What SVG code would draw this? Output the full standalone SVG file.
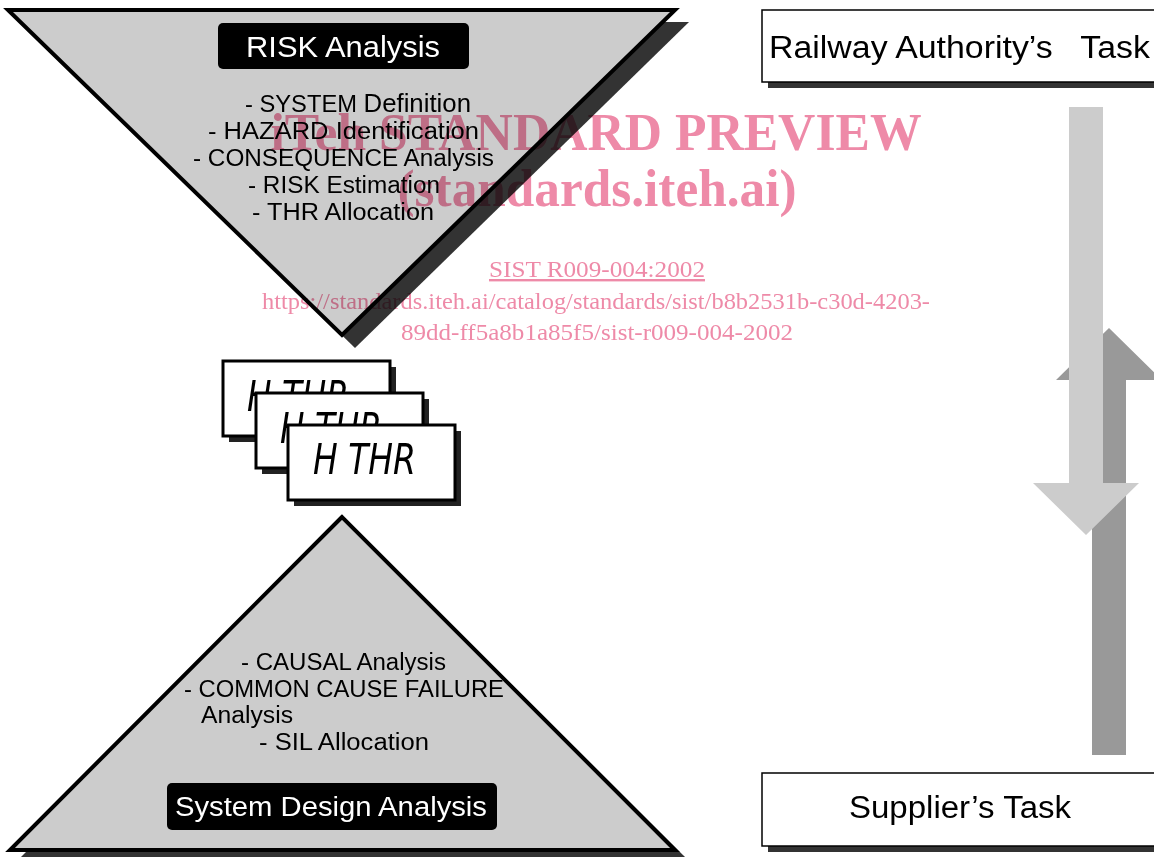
<svg xmlns="http://www.w3.org/2000/svg" width="1154" height="857" viewBox="0 0 1154 857">
<style>
.tri{fill:#cccccc;stroke:#000;stroke-width:4;stroke-linejoin:miter}
.sh{fill:#333333}
.blk{fill:#000}
.wt{fill:#fff;font-family:"Liberation Sans",Arial,sans-serif}
.t{font-family:"Liberation Sans",Arial,sans-serif;font-size:23px;fill:#000}
.card{fill:#fff;stroke:#000;stroke-width:3}
.cs{fill:#222}
.h{font-family:"DejaVu Sans",sans-serif;font-style:italic;font-size:42px;fill:#000}
.box{fill:#fff;stroke:#000;stroke-width:1.5}
.bt{font-family:"Liberation Sans",Arial,sans-serif;font-size:31px;fill:#000}
.wm{font-family:"Liberation Serif","Times New Roman",serif;fill:#ee8aa8;mix-blend-mode:multiply}
</style>
<rect width="1154" height="857" fill="#fff"/>

<g id="risk-analysis">
<polygon class="sh" points="21,22 689,22 355,348"/>
<polygon class="tri" points="8,10 675,10 342,335"/>
<rect class="blk" x="218" y="23" width="251" height="46" rx="5"/>
<text class="wt" x="343" y="57" font-size="30" text-anchor="middle" textLength="194" lengthAdjust="spacingAndGlyphs">RISK Analysis</text>
<text class="t" x="245" y="112" textLength="226" lengthAdjust="spacingAndGlyphs">- SYSTEM <tspan font-size="25">Definition</tspan></text>
<text class="t" x="208" y="139" textLength="271" lengthAdjust="spacingAndGlyphs">- HAZARD Identification</text>
<text class="t" x="193" y="166" textLength="301" lengthAdjust="spacingAndGlyphs">- CONSEQUENCE Analysis</text>
<text class="t" x="248" y="193" textLength="192" lengthAdjust="spacingAndGlyphs">- RISK Estimation</text>
<text class="t" x="252" y="220" textLength="182" lengthAdjust="spacingAndGlyphs">- THR Allocation</text>
</g>

<g id="thr-cards">
<rect class="cs" x="229" y="367" width="167" height="75"/>
<rect class="card" x="223" y="361" width="167" height="75"/>
<text class="h" x="247" y="411" textLength="102" lengthAdjust="spacingAndGlyphs">H THR</text>
<rect class="cs" x="262" y="399" width="167" height="75"/>
<rect class="card" x="256" y="393" width="167" height="75"/>
<text class="h" x="280" y="443" textLength="102" lengthAdjust="spacingAndGlyphs">H THR</text>
<rect class="cs" x="294" y="431" width="167" height="75"/>
<rect class="card" x="288" y="425" width="167" height="75"/>
<text class="h" x="313" y="474" textLength="103" lengthAdjust="spacingAndGlyphs">H THR</text>
</g>

<g id="system-design-analysis">
<polygon class="sh" points="352,526 20,858 686,858"/>
<polygon class="tri" points="342,517 10,850 675,850"/>
<text class="t" x="241" y="670" textLength="205" lengthAdjust="spacingAndGlyphs">- CAUSAL Analysis</text>
<text class="t" x="184" y="697" textLength="320" lengthAdjust="spacingAndGlyphs">- COMMON CAUSE FAILURE</text>
<text class="t" x="201" y="723" textLength="92" lengthAdjust="spacingAndGlyphs">Analysis</text>
<text class="t" x="259" y="750" textLength="170" lengthAdjust="spacingAndGlyphs">- SIL Allocation</text>
<rect class="blk" x="167" y="783" width="330" height="47" rx="5"/>
<text class="wt" x="331" y="816" font-size="27" text-anchor="middle" textLength="312" lengthAdjust="spacingAndGlyphs">System Design Analysis</text>
</g>

<g id="railway-authority-task">
<rect class="sh" x="768" y="16" width="400" height="72"/>
<rect class="box" x="762" y="10" width="400" height="72"/>
<text class="bt" x="769" y="58" textLength="381" lengthAdjust="spacingAndGlyphs" xml:space="preserve">Railway Authority’s   Task</text>
</g>

<g id="supplier-task">
<rect class="sh" x="768" y="779" width="400" height="73"/>
<rect class="box" x="762" y="773" width="400" height="73"/>
<text class="bt" x="849" y="818" textLength="222" lengthAdjust="spacingAndGlyphs">Supplier’s Task</text>
</g>

<g id="connectors">
<polygon fill="#999999" points="1092,755 1126,755 1126,380 1162,380 1109,328 1056,380 1092,380"/>
<polygon fill="#cccccc" points="1069,107 1103,107 1103,483 1139,483 1086,535 1033,483 1069,483"/>
</g>

<g id="watermark">
<text class="wm" x="596" y="150" font-size="52" font-weight="bold" text-anchor="middle" textLength="651" lengthAdjust="spacingAndGlyphs">iTeh STANDARD PREVIEW</text>
<text class="wm" x="597" y="206" font-size="52" font-weight="bold" text-anchor="middle" textLength="399" lengthAdjust="spacingAndGlyphs">(standards.iteh.ai)</text>
<text class="wm" x="597" y="277" font-size="24" text-anchor="middle" text-decoration="underline" textLength="216" lengthAdjust="spacingAndGlyphs">SIST R009-004:2002</text>
<text class="wm" x="596" y="309" font-size="24" text-anchor="middle" textLength="668" lengthAdjust="spacingAndGlyphs">https://standards.iteh.ai/catalog/standards/sist/b8b2531b-c30d-4203-</text>
<text class="wm" x="597" y="340" font-size="24" text-anchor="middle" textLength="392" lengthAdjust="spacingAndGlyphs">89dd-ff5a8b1a85f5/sist-r009-004-2002</text>
</g>
</svg>
